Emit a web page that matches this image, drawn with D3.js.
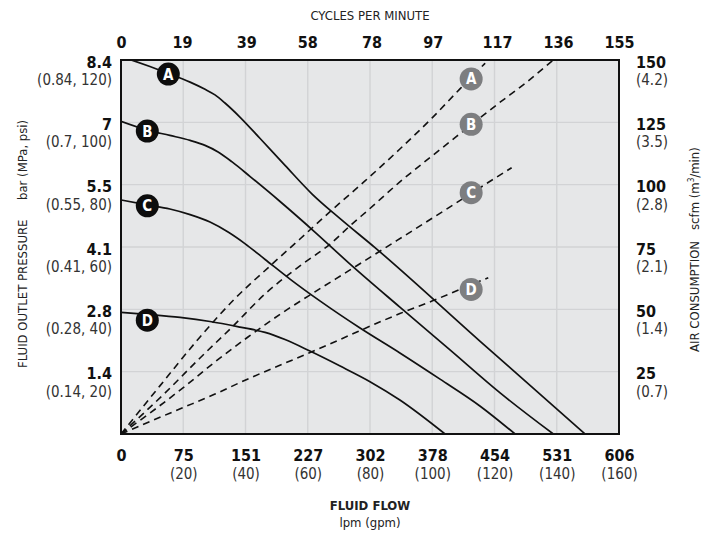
<!DOCTYPE html>
<html>
<head>
<meta charset="utf-8">
<script src="https://cdn.jsdelivr.net/npm/d3@7"></script>
<style>
  html, body { margin: 0; padding: 0; background: #ffffff; }
  svg { display: block; }
  text { font-family: "Liberation Sans Narrow", "DejaVu Sans Condensed", "Roboto", sans-serif; }
</style>
</head>
<body>
<svg id="chart" width="715" height="538"></svg>
<script>
// ---------- DATA ----------
const flowGpmTicks = [0, 20, 40, 60, 80, 100, 120, 140, 160];
const flowLpmLabels = ["0", "75", "151", "227", "302", "378", "454", "531", "606"];
const flowGpmLabels = ["", "(20)", "(40)", "(60)", "(80)", "(100)", "(120)", "(140)", "(160)"];
const cycleTicks = [0, 19, 39, 58, 78, 97, 117, 136, 155];
const psiTicks = [20, 40, 60, 80, 100, 120];
const barLabels = ["1.4", "2.8", "4.1", "5.5", "7", "8.4"];
const mpaPsiLabels = ["(0.14, 20)", "(0.28, 40)", "(0.41, 60)", "(0.55, 80)", "(0.7, 100)", "(0.84, 120)"];
const scfmTicks = [25, 50, 75, 100, 125, 150];
const scfmLabels = ["25", "50", "75", "100", "125", "150"];
const m3Labels = ["(0.7)", "(1.4)", "(2.1)", "(2.8)", "(3.5)", "(4.2)"];

// Fluid outlet pressure (psi) vs fluid flow (gpm)
const pressureA = [[3.4,120],[9.3,117.9],[15.2,115.7],[22.2,112.9],[27.0,110.6],[30.2,108.8],[33.4,106.2],[38.2,101.7],[44.7,94.8],[52.7,86.2],[61.4,77.0],[70.4,69.1],[81.6,59.8],[115.3,29.8],[149.1,0]];
const pressureB = [[0,100.3],[8.4,97.5],[15.7,95.8],[22.2,94.2],[27.0,92.6],[31.2,90.5],[35.7,87.3],[41.5,82.6],[51.1,74.6],[62.3,64.8],[73.6,54.5],[89.6,40.7],[105.7,27.0],[121.8,13.2],[138.9,0]];
const pressureC = [[0,75.1],[8.4,73.5],[15.7,72.2],[22.2,70.4],[28.6,68.0],[34.4,64.8],[39.8,61.1],[46.3,56.0],[54.3,49.7],[63.9,42.7],[76.8,34.0],[89.6,26.0],[102.5,17.6],[115.3,9.0],[126.6,0]];
const pressureD = [[0,39.0],[9.3,38.3],[19.0,37.4],[28.6,36.1],[38.2,34.3],[46.3,32.6],[52.7,30.3],[60.7,26.6],[70.4,21.8],[80.0,16.8],[89.6,10.9],[104.1,0]];

// Air consumption (scfm) vs fluid flow (gpm)
const airA = [[0,0],[12.5,19.3],[25.4,38.9],[36.6,54.3],[47.9,67.4],[57.5,78.2],[68.1,90.2],[78.4,101.5],[89.6,114.3],[99.9,126.7],[108.9,138.4],[117.0,148.7]];
const airB = [[0,0],[14.1,16.4],[25.4,30.5],[35.7,42.9],[46.3,56.2],[57.5,67.4],[67.2,76.2],[74.2,84.2],[79.4,89.8],[89.6,101.1],[99.9,111.5],[109.6,121.1],[121.1,132.4],[129.8,140.6],[138.9,150]];
const airC = [[0,0],[9.3,8.4],[19.6,18.2],[30.2,28.9],[40.8,38.9],[51.7,48.5],[62.3,57.0],[73.6,65.8],[84.8,74.6],[94.5,82.2],[105.1,90.6],[117.0,100.1],[125.5,106.8]];
const airD = [[0,0],[9.3,5.0],[19.6,10.4],[30.2,16.0],[40.8,22.1],[51.7,27.9],[62.3,33.5],[72.9,39.3],[81.6,44.1],[89.6,48.3],[99.9,53.3],[108.9,58.0],[118.0,62.7]];

const curveNames = ["A", "B", "C", "D"];
const pressureMarkers = [[15.2,115.5],[8.45,97.2],[8.45,73.2],[8.45,36.5]];
const airMarkers = [[112.5,142.4],[112.5,124.2],[112.5,96.8],[112.5,58.0]];

// ---------- LAYOUT ----------
const L = 121, R = 619, T = 60, B = 434;
const svg = d3.select("#chart");

const x = d3.scaleLinear().domain([0, 160]).range([L, R]);
const xCycles = d3.scaleLinear().domain([0, 155]).range([L, R]);
const yPsi = d3.scaleLinear().domain([0, 120]).range([B, T]);
const yScfm = d3.scaleLinear().domain([0, 150]).range([B, T]);

// plot background
svg.append("rect").attr("x", L).attr("y", T).attr("width", R - L).attr("height", B - T)
  .attr("fill", "#e6e7e8");

// grid
const grid = svg.append("g");
grid.selectAll("line.v").data(flowGpmTicks.slice(1, -1)).join("line")
  .attr("x1", d => x(d)).attr("x2", d => x(d)).attr("y1", T).attr("y2", B)
  .attr("stroke", "#d2d3d5").attr("stroke-width", 1.4);
grid.selectAll("line.h").data(psiTicks.slice(0, -1)).join("line")
  .attr("y1", d => yPsi(d)).attr("y2", d => yPsi(d)).attr("x1", L).attr("x2", R)
  .attr("stroke", "#d2d3d5").attr("stroke-width", 1.4);

// clip
svg.append("clipPath").attr("id", "clip").append("rect")
  .attr("x", L).attr("y", T).attr("width", R - L).attr("height", B - T);

const plot = svg.append("g").attr("clip-path", "url(#clip)");

const linePsi = d3.line().x(d => x(d[0])).y(d => yPsi(d[1])).curve(d3.curveMonotoneX);
const lineScfm = d3.line().x(d => x(d[0])).y(d => yScfm(d[1])).curve(d3.curveMonotoneX);

[airA, airB, airC, airD].forEach(s => {
  plot.append("path").attr("d", lineScfm(s)).attr("fill", "none")
    .attr("stroke", "#111").attr("stroke-width", 1.6).attr("stroke-dasharray", "7,5");
});
[pressureA, pressureB, pressureC, pressureD].forEach(s => {
  plot.append("path").attr("d", linePsi(s)).attr("fill", "none")
    .attr("stroke", "#111").attr("stroke-width", 1.7);
});

// markers
function marker(cx, cy, fill, letter) {
  const g = svg.append("g");
  g.append("circle").attr("cx", cx).attr("cy", cy).attr("r", 11.5).attr("fill", fill);
  g.append("text").attr("x", cx).attr("y", cy + 5.5).attr("text-anchor", "middle")
    .attr("font-size", 15).attr("font-weight", "bold").attr("fill", "#fff").text(letter);
}
pressureMarkers.forEach((m, i) => marker(x(m[0]), yPsi(m[1]), "#0d0d0d", curveNames[i]));
airMarkers.forEach((m, i) => marker(x(m[0]), yScfm(m[1]), "#7d7e80", curveNames[i]));

// border
svg.append("rect").attr("x", L).attr("y", T).attr("width", R - L).attr("height", B - T)
  .attr("fill", "none").attr("stroke", "#111").attr("stroke-width", 2);

// ---------- AXES ----------
function cleanAxis(g) {
  g.select(".domain").remove();
  g.selectAll(".tick line").remove();
  g.attr("font-family", null).attr("font-size", null);
}
// top cycles axis
const topAxis = svg.append("g").attr("transform", `translate(0,${T})`)
  .call(d3.axisTop(xCycles).tickValues(cycleTicks).tickFormat(d3.format("d")))
  .call(cleanAxis);
topAxis.selectAll("text").attr("y", -12).attr("dy", 0)
  .attr("font-size", 16).attr("font-weight", "bold").attr("fill", "#111");

// bottom flow axis
const botAxis = svg.append("g").attr("transform", `translate(0,${B})`)
  .call(d3.axisBottom(x).tickValues(flowGpmTicks).tickFormat((d, i) => flowLpmLabels[i]))
  .call(cleanAxis);
botAxis.selectAll("text").attr("y", 27).attr("dy", 0)
  .attr("font-size", 16).attr("font-weight", "bold").attr("fill", "#111");
botAxis.selectAll(".tick").append("text")
  .attr("y", 45).attr("text-anchor", "middle").attr("font-size", 15).attr("fill", "#333")
  .text((d, i) => flowGpmLabels[i]);

// left pressure axis
const leftAxis = svg.append("g").attr("transform", `translate(${L},0)`)
  .call(d3.axisLeft(yPsi).tickValues(psiTicks).tickFormat((d, i) => barLabels[i]))
  .call(cleanAxis);
leftAxis.selectAll("text").attr("x", -9).attr("dy", 0).attr("y", 7)
  .attr("font-size", 16).attr("font-weight", "bold").attr("fill", "#111");
leftAxis.selectAll(".tick").append("text")
  .attr("x", -9).attr("y", 24.5).attr("text-anchor", "end").attr("font-size", 15).attr("fill", "#333")
  .text((d, i) => mpaPsiLabels[i]);

// right air axis
const rightAxis = svg.append("g").attr("transform", `translate(${R},0)`)
  .call(d3.axisRight(yScfm).tickValues(scfmTicks).tickFormat((d, i) => scfmLabels[i]))
  .call(cleanAxis);
rightAxis.selectAll("text").attr("x", 17).attr("dy", 0).attr("y", 7)
  .attr("font-size", 16).attr("font-weight", "bold").attr("fill", "#111");
rightAxis.selectAll(".tick").append("text")
  .attr("x", 17).attr("y", 24.5).attr("text-anchor", "start").attr("font-size", 15).attr("fill", "#333")
  .text((d, i) => m3Labels[i]);

// ---------- TITLES ----------
svg.append("text").attr("x", 370).attr("y", 20).attr("text-anchor", "middle")
  .attr("font-size", 13).attr("fill", "#222").text("CYCLES PER MINUTE");
svg.append("text").attr("x", 370).attr("y", 510).attr("text-anchor", "middle")
  .attr("font-size", 13).attr("font-weight", "bold").attr("fill", "#222").text("FLUID FLOW");
svg.append("text").attr("x", 370).attr("y", 527).attr("text-anchor", "middle")
  .attr("font-size", 13).attr("fill", "#222").text("lpm (gpm)");

svg.append("text").attr("transform", "translate(27,368) rotate(-90)")
  .attr("font-size", 13).attr("fill", "#222").text("FLUID OUTLET PRESSURE");
svg.append("text").attr("transform", "translate(27,200) rotate(-90)")
  .attr("font-size", 13).attr("fill", "#222").text("bar (MPa, psi)");

svg.append("text").attr("transform", "translate(699,352) rotate(-90)")
  .attr("font-size", 13).attr("fill", "#222").text("AIR CONSUMPTION");
const sc = svg.append("text").attr("transform", "translate(699,230) rotate(-90)")
  .attr("font-size", 13).attr("fill", "#222");
sc.append("tspan").text("scfm (m");
sc.append("tspan").attr("font-size", 8).attr("dy", -5).text("3");
sc.append("tspan").attr("dy", 5).text("/min)");
</script>
</body>
</html>
